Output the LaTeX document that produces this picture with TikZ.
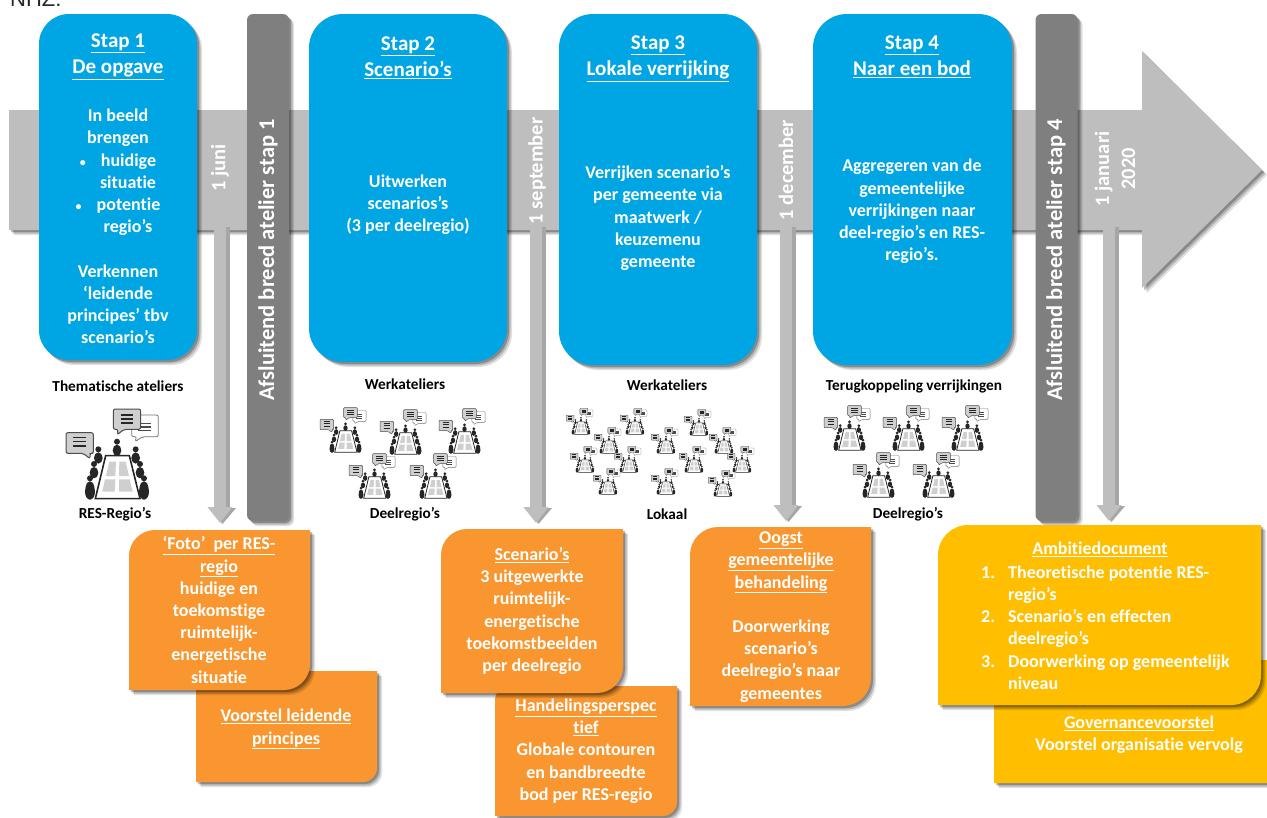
\documentclass[tikz,border=0pt]{standalone}
\usepackage{fontspec}
\setmainfont{Carlito}[Ligatures={TeX,NoCommon}]
\newfontfamily\nhzfont{Liberation Sans}
\usetikzlibrary{shadows,arrows.meta}
\definecolor{stepblue}{HTML}{00A5E3}
\definecolor{bargrey}{HTML}{7F7F7F}
\definecolor{flowgrey}{HTML}{BEBEBE}
\definecolor{orangebox}{HTML}{F9962F}
\definecolor{yellowbox}{HTML}{FFBE00}
\definecolor{inkdark}{HTML}{262626}
\definecolor{bubblegrey}{HTML}{CFCFCF}
\tikzset{
  softshadow/.style={
    general shadow={fill=black,opacity=.12,shadow xshift=5pt,shadow yshift=-5pt},
    general shadow={fill=black,opacity=.18,shadow xshift=3.5pt,shadow yshift=-3.5pt},
    general shadow={fill=black,opacity=.25,shadow xshift=2pt,shadow yshift=-2pt}},
  stepbox/.style={fill=stepblue,draw=none,softshadow,minimum width=#1,inner sep=0pt},
  barbox/.style={fill=bargrey,draw=none,rounded corners=6pt,softshadow,inner sep=0pt,minimum width=42pt,minimum height=507pt},
  bodytext/.style={text=white,align=center,font=\fontsize{18}{22.2}\selectfont\bfseries,inner sep=0pt},
  titletext/.style={text=white,align=center,font=\fontsize{21}{26}\selectfont\bfseries,inner sep=0pt},
  bartext/.style={text=white,rotate=90,font=\fontsize{22.5}{24}\selectfont\bfseries,inner sep=0pt},
  datetext/.style={text=white,rotate=90,align=center,font=\fontsize{20.5}{26}\selectfont\bfseries,inner sep=0pt},
  blacklabel/.style={text=black,font=\fontsize{15.3}{17}\selectfont\bfseries,inner sep=0pt},
  flowshadow/.style={draw=black!35,line width=14pt,-{Triangle[width=26pt,length=16pt]}},
  flowarrow/.style={draw=flowgrey,line width=12pt,-{Triangle[width=24pt,length=16pt]}},
  ghostbox/.style={draw=none,fill=none,inner sep=0pt},
}
\newcommand{\ul}[1]{\underline{#1}}
\newcommand{\smallbullet}{{\fontsize{12}{12}\selectfont •}}
% diagonal-corner box: name, x1, y1, x2, y2, r top-left, r bottom-right, colour
\newcommand{\diagbox}[8]{%
  \path[fill=#8,softshadow]
    ({#2+#6},#3) -- (#4,#3) -- (#4,{#5-#7})
    .. controls (#4,{#5-.45*#7}) and ({#4-.45*#7},#5) .. ({#4-#7},#5)
    -- (#2,#5) -- (#2,{#3+#6})
    .. controls (#2,{#3+.45*#6}) and ({#2+.45*#6},#3) .. cycle;
  \node[ghostbox,minimum width={(#4-#2)*1pt},minimum height={(#5-#3)*1pt}] (#1) at ({(#2+#4)/2},{(#3+#5)/2}) {};
}
% meeting icon: x, y, scale; local units are 3 per pixel at scale 1
\newcommand{\meet}[3]{%
  \begin{scope}[shift={(#1,#2)},scale={#3/3},shift={(-126,-144)}]
    \path[fill=white,draw=black!55,line width={.8*#3 pt},rounded corners={2*#3 pt}]
      (335,165) -- (415,165) -- (415,230) -- (368,230) -- (345,245) -- (350,230) -- (335,230) -- cycle;
    \foreach \yy in {190,201,212} \draw[black!70,line width={1.2*#3 pt}] (355,\yy) -- (392,\yy);
    \path[fill=bubblegrey,draw=black!70,line width={1*#3 pt},rounded corners={2*#3 pt}]
      (280,147) -- (362,147) -- (362,208) -- (312,208) -- (292,224) -- (294,208) -- (280,208) -- cycle;
    \foreach \yy in {165,177,189} \draw[inkdark,line width={1.4*#3 pt}] (302,\yy) -- (340,\yy);
    \path[fill=bubblegrey,draw=black!70,line width={1*#3 pt},rounded corners={2*#3 pt}]
      (138,218) -- (220,218) -- (220,280) -- (210,280) -- (210,296) -- (190,280) -- (138,280) -- cycle;
    \foreach \yy in {233,245,258} \draw[inkdark,line width={1.4*#3 pt}] (160,\yy) -- (198,\yy);
    \foreach \hx/\hy in {291/245,235/268,222/312,210/355,347/268,360/312,372/355}{
      \fill[inkdark] (\hx,\hy) circle[radius=9];
      \fill[inkdark] (\hx,\hy+26) ellipse[x radius=13,y radius=17];
    }
    \fill[inkdark] (210,395) ellipse[x radius=15,y radius=24];
    \fill[inkdark] (372,395) ellipse[x radius=15,y radius=24];
    \path[fill=white,draw=inkdark,line width={1.6*#3 pt}] (257,287) -- (328,287) -- (360,416) -- (226,416) -- cycle;
    \fill[bubblegrey] (268,305) -- (288,305) -- (286,348) -- (258,348) -- cycle;
    \fill[bubblegrey] (298,305) -- (317,305) -- (327,348) -- (297,348) -- cycle;
    \fill[bubblegrey] (255,358) -- (286,358) -- (284,395) -- (247,395) -- cycle;
    \fill[bubblegrey] (297,358) -- (329,358) -- (338,395) -- (297,395) -- cycle;
  \end{scope}
}
\begin{document}
\begin{tikzpicture}[x=1pt,y=-1pt]
\useasboundingbox (0,0) rectangle (1267,817);
\clip (0,0) rectangle (1267,817);
\fill[white] (0,0) rectangle (1267,817);

\node[anchor=base west,inner sep=0pt,text=inkdark,font=\nhzfont\fontsize{22}{24}\selectfont] (nhz) at (10,6) {NHZ.};

% main timeline arrow
\path[fill=flowgrey,softshadow] (9,110) -- (1142,110) -- (1142,51) -- (1262,170) -- (1142,288) -- (1142,230) -- (9,230) -- cycle;
\node[ghostbox] (timeline) at (575,170) {};

% connector ends
\coordinate (a1s) at (220,226);   \coordinate (a1e) at (220,523);
\coordinate (a2s) at (536,226);   \coordinate (a2e) at (536,523);
\coordinate (a3s) at (786,226);   \coordinate (a3e) at (786,521);
\coordinate (a4s) at (1109,226);  \coordinate (a4e) at (1109,521);
\foreach \aa in {a1,a2,a3,a4}{
  \draw[flowshadow,transform canvas={shift={(2.5pt,-1pt)}}] (\aa s) -- (\aa e);
  \draw[flowarrow] (\aa s) -- (\aa e);
}

% date labels
\node[datetext] (d1) at (220,168) {1 juni};
\node[datetext] (d2) at (537,171) {1 september};
\node[datetext] (d3) at (786,170) {1 december};
\node[datetext] (d4) at (1115,169) {1 januari\\2020};

% grey bars
\node[barbox] (bar1) at (268,267.5) {};
\node[barbox] (bar4) at (1056.5,267.5) {};
\node[bartext] (bar1t) at (268,260) {Afsluitend breed atelier stap 1};
\node[bartext] (bar4t) at (1056,260) {Afsluitend breed atelier stap 4};

% blue step boxes
\node[stepbox=158pt,minimum height=346pt,rounded corners=30pt] (s1) at (118,187) {};
\node[stepbox=198pt,minimum height=348pt,rounded corners=34pt] (s2) at (408,188) {};
\node[stepbox=198pt,minimum height=351pt,rounded corners=34pt] (s3) at (658,189.5) {};
\node[stepbox=199pt,minimum height=351pt,rounded corners=34pt] (s4) at (912.5,189.5) {};

\node[titletext,anchor=north] (s1h) at (118,34) {\ul{Stap 1}\\\ul{De opgave}};
\node[titletext,anchor=north] (s2h) at (408,37) {\ul{Stap 2}\\\ul{Scenario's}};
\node[titletext,anchor=north] (s3h) at (658,36) {\ul{Stap 3}\\\ul{Lokale verrijking}};
\node[titletext,anchor=north] (s4h) at (912,36) {\ul{Stap 4}\\\ul{Naar een bod}};

\node[bodytext] (s1b) at (118,226.5) {In beeld\\brengen\\\smallbullet\hspace{15pt}huidige\\\hspace{20pt}situatie\\\smallbullet\hspace{15pt}potentie\\\hspace{20pt}regio's\\[22.2pt]Verkennen\\`leidende\\principes' tbv\\scenario's};
\node[bodytext] (s2b) at (408,205) {Uitwerken\\scenarios's\\(3 per deelregio)};
\node[bodytext] (s3b) at (658,218) {Verrijken scenario's\\per gemeente via\\maatwerk /\\keuzemenu\\gemeente};
\node[bodytext] (s4b) at (912,211.5) {Aggregeren van de\\gemeentelijke\\verrijkingen naar\\deel-regio's en RES-\\regio's.};

% labels
\node[blacklabel] (l1) at (118,386) {Thematische ateliers};
\node[blacklabel] (l2) at (115,514) {RES-Regio's};
\node[blacklabel] (l3) at (405,384) {Werkateliers};
\node[blacklabel] (l4) at (405,514) {Deelregio's};
\node[blacklabel] (l5) at (667,385) {Werkateliers};
\node[blacklabel] (l6) at (667,514) {Lokaal};
\node[blacklabel] (l7) at (914,386) {Terugkoppeling verrijkingen};
\node[blacklabel] (l8) at (908,514) {Deelregio's};

% meeting icons
\meet{62}{408}{1}
\foreach \ix/\iy in {318/407,378/409,437/408,347/453,408/453,822/405,881/405,940/405,851/452,911/452}{\meet{\ix}{\iy}{.5}}
\foreach \ix/\iy in {565/408,619/408,593/427,569/446,613/446,592/468,650/427,683/409,708/427,678/446,726/446,650/468,707/470}{\meet{\ix}{\iy}{.29}}

% orange and yellow result boxes
\diagbox{voorstel}{196}{671}{377}{782}{12}{14}{orangebox}
\diagbox{foto}{129}{530}{310}{690}{26}{26}{orangebox}
\diagbox{hand}{495}{686}{677}{816}{14}{14}{orangebox}
\diagbox{scen}{441}{529}{623}{693}{26}{26}{orangebox}
\diagbox{oogst}{690}{527}{871}{706}{28}{28}{orangebox}
\diagbox{gov}{994}{660}{1300}{783}{10}{14}{yellowbox}
\diagbox{ambi}{938}{525}{1261}{705}{30}{30}{yellowbox}

\node[bodytext] (fotot) at (219,610) {\ul{`Foto'\ \ per RES-}\\\ul{regio}\\huidige en\\toekomstige\\ruimtelijk-\\energetische\\situatie};
\node[bodytext] (voorstelt) at (286,729) {\ul{Voorstel leidende}\\\ul{principes}};
\node[bodytext] (scent) at (532,611) {\ul{Scenario's}\\3 uitgewerkte\\ruimtelijk-\\energetische\\toekomstbeelden\\per deelregio};
\node[bodytext] (handt) at (586,751) {\ul{Handelingsperspec}\\\ul{tief}\\Globale contouren\\en bandbreedte\\bod per RES-regio};
\node[bodytext] (oogstt) at (781,617) {\ul{Oogst}\\\ul{gemeentelijke}\\\ul{behandeling}\\[22.2pt]Doorwerking\\scenario's\\deelregio's naar\\gemeentes};
\node[bodytext] (ambih) at (1100,549) {\ul{Ambitiedocument}};
\node[bodytext,align=left,anchor=north west] (ambil) at (981,565.5) {\makebox[27pt][l]{1.}Theoretische potentie RES-\\\makebox[27pt][l]{}regio's\\\makebox[27pt][l]{2.}Scenario's en effecten\\\makebox[27pt][l]{}deelregio's\\\makebox[27pt][l]{3.}Doorwerking op gemeentelijk\\\makebox[27pt][l]{}niveau};
\node[bodytext] (govt) at (1139,734.5) {\ul{Governancevoorstel}\\Voorstel organisatie vervolg};
\end{tikzpicture}
\end{document}
